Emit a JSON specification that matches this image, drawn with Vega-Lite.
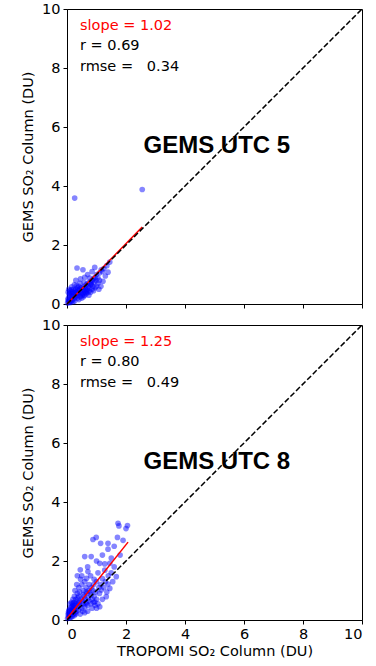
{
"$schema":"https://vega.github.io/schema/vega-lite/v6.json",
"background":"white",
"padding":{"left":20,"top":0,"right":0,"bottom":5},
"spacing":5,
"config":{
 "view":{"stroke":"black","strokeWidth":1},
 "axis":{"grid":false,"domainColor":"black","tickColor":"black","labelColor":"black","labelFont":"DejaVu Sans","labelFontSize":14.5,"titleFont":"DejaVu Sans","titleFontSize":14.5,"titleFontWeight":"normal","titleColor":"black","tickSize":4,"labelPadding":3},
 "axisY":{"titlePadding":6}
},
"datasets":{
 "utc5":[
 {"x":0.02,"y":0.03},{"x":0.05,"y":0.08},{"x":0.08,"y":0.05},{"x":0.1,"y":0.12},{"x":0.12,"y":0.2},{"x":0.15,"y":0.1},{"x":0.18,"y":0.25},{"x":0.2,"y":0.15},{"x":0.22,"y":0.3},{"x":0.25,"y":0.2},{"x":0.05,"y":0.2},{"x":0.08,"y":0.3},{"x":0.1,"y":0.35},{"x":0.15,"y":0.4},{"x":0.03,"y":0.15},{"x":0.28,"y":0.32},{"x":0.3,"y":0.25},{"x":0.12,"y":0.05},{"x":0.2,"y":0.08},{"x":0.06,"y":0.12},{"x":0.18,"y":0.35},{"x":0.25,"y":0.38},{"x":0.1,"y":0.45},{"x":0.04,"y":0.4},
 {"x":0.32,"y":0.4},{"x":0.35,"y":0.3},{"x":0.38,"y":0.45},{"x":0.4,"y":0.35},{"x":0.42,"y":0.5},{"x":0.45,"y":0.4},{"x":0.48,"y":0.55},{"x":0.5,"y":0.45},{"x":0.52,"y":0.3},{"x":0.55,"y":0.5},{"x":0.58,"y":0.6},{"x":0.6,"y":0.45},{"x":0.62,"y":0.55},{"x":0.65,"y":0.65},{"x":0.68,"y":0.5},{"x":0.7,"y":0.7},{"x":0.72,"y":0.6},{"x":0.75,"y":0.55},{"x":0.78,"y":0.75},{"x":0.8,"y":0.65},{"x":0.82,"y":0.7},{"x":0.85,"y":0.8},{"x":0.88,"y":0.6},{"x":0.9,"y":0.85},{"x":0.92,"y":0.75},{"x":0.95,"y":0.9},{"x":0.98,"y":0.8},{"x":0.35,"y":0.55},{"x":0.3,"y":0.5},{"x":0.4,"y":0.6},{"x":0.28,"y":0.45},{"x":0.45,"y":0.25},{"x":0.55,"y":0.35},{"x":0.6,"y":0.3},{"x":0.7,"y":0.4},{"x":0.65,"y":0.35},{"x":0.75,"y":0.45},{"x":0.85,"y":0.5},{"x":0.5,"y":0.2},{"x":0.4,"y":0.15},
 {"x":0.34,"y":1.22},{"x":0.54,"y":1.16},{"x":0.94,"y":1.24},{"x":1.16,"y":1.16},{"x":1.39,"y":1.08},{"x":1.45,"y":1.42},{"x":0.46,"y":0.85},{"x":0.77,"y":0.88},{"x":1.05,"y":0.88},{"x":1.22,"y":0.77},{"x":0.82,"y":0.66},{"x":0.49,"y":0.54},{"x":0.15,"y":0.49},{"x":0.09,"y":0.37},{"x":1.0,"y":1.0},{"x":1.1,"y":1.05},{"x":1.2,"y":1.1},{"x":1.3,"y":0.95},{"x":1.05,"y":0.7},{"x":1.15,"y":0.6},{"x":0.6,"y":0.9},{"x":0.7,"y":1.0},{"x":0.85,"y":1.1},{"x":0.3,"y":0.8},{"x":0.25,"y":0.65},{"x":1.35,"y":1.3},{"x":1.25,"y":1.2},{"x":0.95,"y":0.55},{"x":1.1,"y":0.8},
 {"x":0.14,"y":0.28},{"x":0.22,"y":0.5},{"x":0.33,"y":0.62},{"x":0.44,"y":0.7},{"x":0.58,"y":0.72},{"x":0.66,"y":0.45},{"x":0.74,"y":0.3},{"x":0.8,"y":0.4},{"x":0.9,"y":0.45},{"x":1.0,"y":0.6},{"x":1.08,"y":0.5},{"x":0.36,"y":0.2},{"x":0.26,"y":0.1},{"x":0.56,"y":0.25},{"x":0.62,"y":0.4},{"x":0.48,"y":0.35},{"x":0.36,"y":0.38},{"x":0.2,"y":0.4},{"x":0.06,"y":0.5},{"x":0.16,"y":0.58},
 {"x":0.26,"y":3.59},{"x":2.55,"y":3.88}
 ],
 "utc8":[
 {"x":0.02,"y":0.05},{"x":0.05,"y":0.1},{"x":0.08,"y":0.15},{"x":0.1,"y":0.08},{"x":0.12,"y":0.2},{"x":0.15,"y":0.25},{"x":0.18,"y":0.12},{"x":0.2,"y":0.3},{"x":0.22,"y":0.2},{"x":0.25,"y":0.35},{"x":0.28,"y":0.25},{"x":0.3,"y":0.4},{"x":0.05,"y":0.25},{"x":0.08,"y":0.35},{"x":0.1,"y":0.3},{"x":0.15,"y":0.45},{"x":0.2,"y":0.5},{"x":0.25,"y":0.15},{"x":0.3,"y":0.2},{"x":0.12,"y":0.4},{"x":0.18,"y":0.55},{"x":0.04,"y":0.18},{"x":0.06,"y":0.3},{"x":0.14,"y":0.1},{"x":0.22,"y":0.42},{"x":0.26,"y":0.5},{"x":0.32,"y":0.3},{"x":0.35,"y":0.45},{"x":0.38,"y":0.55},{"x":0.4,"y":0.35},{"x":0.42,"y":0.6},{"x":0.45,"y":0.5},{"x":0.48,"y":0.7},{"x":0.5,"y":0.4},{"x":0.52,"y":0.65},{"x":0.55,"y":0.55},{"x":0.58,"y":0.8},{"x":0.6,"y":0.45},{"x":0.62,"y":0.7},{"x":0.65,"y":0.6},{"x":0.68,"y":0.9},{"x":0.7,"y":0.5},{"x":0.72,"y":0.75},{"x":0.75,"y":0.65},{"x":0.78,"y":0.95},{"x":0.8,"y":0.55},{"x":0.82,"y":0.85},{"x":0.85,"y":0.7},{"x":0.88,"y":1.0},{"x":0.9,"y":0.6},{"x":0.92,"y":0.8},{"x":0.95,"y":0.5},{"x":1.0,"y":0.7},{"x":1.05,"y":0.55},{"x":1.11,"y":0.45},{"x":0.94,"y":0.62},{"x":1.33,"y":0.79},{"x":1.16,"y":1.02},{"x":1.45,"y":1.07},{"x":1.39,"y":1.22},{"x":0.46,"y":1.38},{"x":0.66,"y":1.41},{"x":0.92,"y":1.38},{"x":0.71,"y":1.64},{"x":1.28,"y":1.69},{"x":1.67,"y":1.47},{"x":1.11,"y":1.92},{"x":1.28,"y":1.9},{"x":1.45,"y":1.92},{"x":0.6,"y":2.15},{"x":0.82,"y":2.15},{"x":1.39,"y":2.4},{"x":0.88,"y":2.73},{"x":0.99,"y":2.8},{"x":1.14,"y":2.6},{"x":1.39,"y":2.6},{"x":1.71,"y":2.8},{"x":1.73,"y":3.28},{"x":1.76,"y":3.19},{"x":2.05,"y":3.2},{"x":0.35,"y":0.9},{"x":0.4,"y":1.1},{"x":0.5,"y":1.2},{"x":0.55,"y":1.0},{"x":0.6,"y":1.3},{"x":0.3,"y":0.7},{"x":0.25,"y":0.8},{"x":0.35,"y":1.5},{"x":0.45,"y":1.7},{"x":0.5,"y":1.5},{"x":0.75,"y":1.2},{"x":0.8,"y":1.5},{"x":0.9,"y":1.2},{"x":1.0,"y":1.3},{"x":1.05,"y":1.6},{"x":1.2,"y":1.4},{"x":1.25,"y":1.1},{"x":1.3,"y":1.3},{"x":1.5,"y":1.6},{"x":1.55,"y":1.3},{"x":1.6,"y":1.8},{"x":1.0,"y":2.0},{"x":1.2,"y":2.2},{"x":1.5,"y":2.1},{"x":0.7,"y":1.8},{"x":0.65,"y":1.1},{"x":1.1,"y":0.9},{"x":1.2,"y":0.7},{"x":1.35,"y":0.95},{"x":0.7,"y":0.3},{"x":0.6,"y":0.25},{"x":0.85,"y":0.4},{"x":0.45,"y":0.2},{"x":1.0,"y":0.4},{"x":1.15,"y":1.2},{"x":0.55,"y":0.85},{"x":0.65,"y":0.95},{"x":0.4,"y":0.8},{"x":0.3,"y":0.55},{"x":0.2,"y":0.7},{"x":0.15,"y":0.6},{"x":0.1,"y":0.55},{"x":1.8,"y":2.2},{"x":1.6,"y":2.5},{"x":1.9,"y":2.7},{"x":2.0,"y":3.1},{"x":1.4,"y":1.5},
 {"x":0.07,"y":0.2},{"x":0.13,"y":0.32},{"x":0.19,"y":0.38},{"x":0.24,"y":0.6},{"x":0.33,"y":0.62},{"x":0.37,"y":0.75},{"x":0.43,"y":0.95},{"x":0.27,"y":1.0},{"x":0.33,"y":1.2},{"x":0.53,"y":0.3},{"x":0.63,"y":0.55},{"x":0.73,"y":1.0},{"x":0.83,"y":1.1},{"x":0.97,"y":0.95},{"x":1.08,"y":1.1}
 ],
 "fit5":[{"x":0.0,"y":0.0},{"x":2.55,"y":2.61}],
 "fit8":[{"x":0.0,"y":0.05},{"x":2.07,"y":2.64}],
 "ref":[{"x":0,"y":0},{"x":10,"y":10}],
 "ann5":[
  {"x":0.44,"y":9.29,"label":"slope = 1.02","kind":"slope"},
  {"x":0.44,"y":8.61,"label":"r = 0.69","kind":"other"},
  {"x":0.44,"y":7.9,"label":"rmse =\u00a0\u00a0 0.34","kind":"other"}
 ],
 "ann8":[
  {"x":0.44,"y":9.29,"label":"slope = 1.25","kind":"slope"},
  {"x":0.44,"y":8.61,"label":"r = 0.80","kind":"other"},
  {"x":0.44,"y":7.9,"label":"rmse =\u00a0\u00a0 0.49","kind":"other"}
 ],
 "title5":[{"x":5.08,"y":5.12,"label":"GEMS UTC 5"}],
 "title8":[{"x":5.08,"y":5.12,"label":"GEMS UTC 8"}]
},
"vconcat":[
 {
  "width":295,"height":295,
  "layer":[
   {"data":{"name":"utc5"},"mark":{"type":"circle","color":"#0000ff","opacity":0.48,"size":32},
    "encoding":{
     "x":{"field":"x","type":"quantitative","scale":{"domain":[0,10],"nice":false},"axis":{"labels":false,"title":null,"values":[0,2,4,6,8,10]}},
     "y":{"field":"y","type":"quantitative","scale":{"domain":[0,10],"nice":false},"axis":{"title":"GEMS SO₂ Column (DU)","values":[0,2,4,6,8,10]}}}},
   {"data":{"name":"fit5"},"mark":{"type":"line","color":"#ff0000","strokeWidth":1.5},
    "encoding":{"x":{"field":"x","type":"quantitative"},"y":{"field":"y","type":"quantitative"}}},
   {"data":{"name":"ref"},"mark":{"type":"line","color":"black","strokeWidth":1.5,"strokeDash":[5.5,2.4]},
    "encoding":{"x":{"field":"x","type":"quantitative"},"y":{"field":"y","type":"quantitative"}}},
   {"data":{"name":"ann5"},"mark":{"type":"text","align":"left","baseline":"alphabetic","font":"DejaVu Sans","fontSize":14.5},
    "encoding":{"x":{"field":"x","type":"quantitative"},"y":{"field":"y","type":"quantitative"},"text":{"field":"label"},
     "color":{"field":"kind","type":"nominal","scale":{"domain":["slope","other"],"range":["#ff0000","#000000"]},"legend":null}}},
   {"data":{"name":"title5"},"mark":{"type":"text","align":"center","baseline":"alphabetic","font":"Liberation Sans","fontSize":24,"fontWeight":"bold","color":"black"},
    "encoding":{"x":{"field":"x","type":"quantitative"},"y":{"field":"y","type":"quantitative"},"text":{"field":"label"}}}
  ]
 },
 {
  "width":295,"height":295,
  "layer":[
   {"data":{"name":"utc8"},"mark":{"type":"circle","color":"#0000ff","opacity":0.48,"size":32},
    "encoding":{
     "x":{"field":"x","type":"quantitative","scale":{"domain":[0,10],"nice":false},"axis":{"title":"TROPOMI SO₂ Column (DU)","values":[0,2,4,6,8,10],"titlePadding":4}},
     "y":{"field":"y","type":"quantitative","scale":{"domain":[0,10],"nice":false},"axis":{"title":"GEMS SO₂ Column (DU)","values":[0,2,4,6,8,10]}}}},
   {"data":{"name":"fit8"},"mark":{"type":"line","color":"#ff0000","strokeWidth":1.5},
    "encoding":{"x":{"field":"x","type":"quantitative"},"y":{"field":"y","type":"quantitative"}}},
   {"data":{"name":"ref"},"mark":{"type":"line","color":"black","strokeWidth":1.5,"strokeDash":[5.5,2.4]},
    "encoding":{"x":{"field":"x","type":"quantitative"},"y":{"field":"y","type":"quantitative"}}},
   {"data":{"name":"ann8"},"mark":{"type":"text","align":"left","baseline":"alphabetic","font":"DejaVu Sans","fontSize":14.5},
    "encoding":{"x":{"field":"x","type":"quantitative"},"y":{"field":"y","type":"quantitative"},"text":{"field":"label"},
     "color":{"field":"kind","type":"nominal","scale":{"domain":["slope","other"],"range":["#ff0000","#000000"]},"legend":null}}},
   {"data":{"name":"title8"},"mark":{"type":"text","align":"center","baseline":"alphabetic","font":"Liberation Sans","fontSize":24,"fontWeight":"bold","color":"black"},
    "encoding":{"x":{"field":"x","type":"quantitative"},"y":{"field":"y","type":"quantitative"},"text":{"field":"label"}}}
  ]
 }
]
}
